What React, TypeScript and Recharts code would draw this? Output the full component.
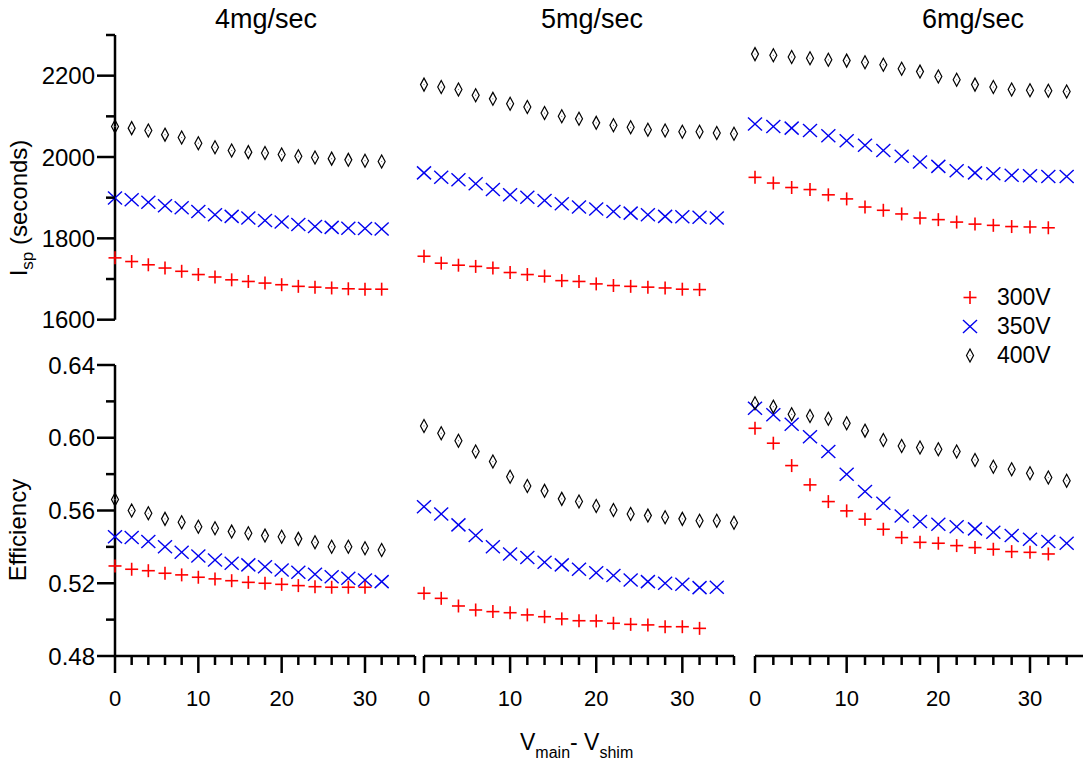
import React from 'react';
import { ScatterChart, Scatter, XAxis, YAxis } from 'recharts';

const FONT = '"Liberation Sans", Arial, Helvetica, sans-serif';

// Categories / ticks
const xValues = [0, 2, 4, 6, 8, 10, 12, 14, 16, 18, 20, 22, 24, 26, 28, 30, 32, 34, 36];
const xTicks = [0, 2, 4, 6, 8, 10, 12, 14, 16, 18, 20, 22, 24, 26, 28, 30, 32, 34, 36];
const ispTicks = [1600, 1700, 1800, 1900, 2000, 2100, 2200, 2300];
const effTicks = [0.48, 0.5, 0.52, 0.54, 0.56, 0.58, 0.6, 0.62, 0.64];
const flowRates = ['4mg/sec', '5mg/sec', '6mg/sec'];
const voltages = ['300V', '350V', '400V'];

// Isp (seconds)
const isp4_300 = [1752, 1743, 1735, 1727, 1719, 1711, 1705, 1698, 1694, 1690, 1686, 1682, 1680, 1678, 1676, 1675, 1675];
const isp4_350 = [1899, 1895, 1889, 1880, 1875, 1866, 1858, 1854, 1850, 1844, 1840, 1834, 1829, 1827, 1825, 1824, 1823];
const isp4_400 = [2075, 2071, 2065, 2055, 2048, 2034, 2024, 2016, 2012, 2010, 2006, 2002, 1999, 1996, 1993, 1991, 1989];
const isp5_300 = [1756, 1739, 1734, 1731, 1727, 1716, 1711, 1707, 1696, 1694, 1688, 1684, 1682, 1680, 1678, 1675, 1674];
const isp5_350 = [1961, 1950, 1944, 1934, 1920, 1907, 1901, 1893, 1885, 1877, 1872, 1866, 1862, 1858, 1854, 1853, 1852, 1850];
const isp5_400 = [2178, 2172, 2166, 2152, 2143, 2131, 2123, 2108, 2100, 2094, 2084, 2078, 2073, 2067, 2065, 2062, 2062, 2059, 2057];
const isp6_300 = [1950, 1936, 1925, 1920, 1907, 1897, 1877, 1869, 1860, 1850, 1846, 1840, 1835, 1832, 1829, 1828, 1826];
const isp6_350 = [2081, 2075, 2071, 2065, 2052, 2040, 2029, 2016, 2002, 1988, 1977, 1966, 1961, 1959, 1955, 1954, 1952, 1952];
const isp6_400 = [2253, 2250, 2246, 2243, 2239, 2237, 2233, 2227, 2217, 2210, 2198, 2190, 2178, 2172, 2166, 2164, 2163, 2161];

// Efficiency
const eff4_300 = [0.5295, 0.5277, 0.5269, 0.5255, 0.5246, 0.5233, 0.5224, 0.5214, 0.5205, 0.52, 0.5194, 0.5187, 0.5181, 0.5178, 0.5178, 0.5178];
const eff4_350 = [0.5456, 0.5451, 0.5429, 0.5401, 0.537, 0.535, 0.5328, 0.531, 0.5301, 0.5291, 0.5273, 0.526, 0.5249, 0.5236, 0.5227, 0.5218, 0.5209];
const eff4_400 = [0.566, 0.56, 0.5585, 0.5554, 0.5535, 0.5511, 0.5502, 0.5484, 0.5475, 0.5462, 0.5456, 0.5444, 0.5425, 0.5401, 0.5401, 0.5392, 0.5383];
const eff5_300 = [0.5145, 0.5117, 0.5075, 0.5053, 0.5044, 0.5038, 0.5026, 0.5016, 0.5004, 0.4994, 0.4993, 0.498, 0.4974, 0.4971, 0.4961, 0.4961, 0.4952];
const eff5_350 = [0.5621, 0.5581, 0.5521, 0.5462, 0.5401, 0.5361, 0.5341, 0.5315, 0.5301, 0.5277, 0.5258, 0.5242, 0.5218, 0.5209, 0.52, 0.5194, 0.5176, 0.5178];
const eff5_400 = [0.6065, 0.6025, 0.5984, 0.5924, 0.5869, 0.5786, 0.5735, 0.5708, 0.5664, 0.5649, 0.5625, 0.5603, 0.5581, 0.5572, 0.5563, 0.5554, 0.5544, 0.5544, 0.5533];
const eff6_300 = [0.6052, 0.597, 0.5847, 0.5741, 0.5649, 0.5598, 0.5552, 0.5497, 0.5451, 0.5425, 0.542, 0.5407, 0.5396, 0.5387, 0.5374, 0.537, 0.5361];
const eff6_350 = [0.6162, 0.6126, 0.6074, 0.6006, 0.5924, 0.5799, 0.5704, 0.564, 0.557, 0.5539, 0.5524, 0.5511, 0.5499, 0.548, 0.5462, 0.5442, 0.5429, 0.542];
const eff6_400 = [0.619, 0.6171, 0.6129, 0.612, 0.6104, 0.608, 0.6039, 0.5988, 0.5955, 0.5946, 0.5937, 0.5924, 0.5878, 0.5841, 0.5827, 0.5805, 0.5781, 0.5764];

const RED = '#ff0000';
const BLUE = '#0000ee';
const BLACK = '#000000';

const toPoints = (vals: number[]) => vals.map((y, i) => ({ x: xValues[i], y }));

const PlusMark = ({ cx, cy }: any) => (
  <g>
    <line x1={cx - 6.5} y1={cy} x2={cx + 6.5} y2={cy} stroke={RED} strokeWidth={1.6} />
    <line x1={cx} y1={cy - 6.5} x2={cx} y2={cy + 6.5} stroke={RED} strokeWidth={1.6} />
  </g>
);
const CrossMark = ({ cx, cy }: any) => (
  <g>
    <line x1={cx - 7} y1={cy - 6.5} x2={cx + 7} y2={cy + 6.5} stroke={BLUE} strokeWidth={1.4} />
    <line x1={cx - 7} y1={cy + 6.5} x2={cx + 7} y2={cy - 6.5} stroke={BLUE} strokeWidth={1.4} />
  </g>
);
const DiamondMark = ({ cx, cy }: any) => (
  <g>
    <path d={`M${cx},${cy - 6.5} L${cx + 3.5},${cy} L${cx},${cy + 6.5} L${cx - 3.5},${cy} Z`} fill="none" stroke={BLACK} strokeWidth={1.2} />
    <circle cx={cx} cy={cy} r={0.6} fill="#777" />
  </g>
);

const XTick = (props: any) => {
  const { x, y, payload } = props;
  const v = payload.value;
  const major = v % 10 === 0;
  return (
    <g>
      <line x1={x} y1={y} x2={x} y2={y + (major ? 17 : 9)} stroke="#000" strokeWidth={2.5} />
      {major && (
        <text x={x} y={y + 50} textAnchor="middle" fontSize={22} fontFamily={FONT} fill="#000">
          {v}
        </text>
      )}
    </g>
  );
};

const makeYTick = (isMajor: (v: number) => boolean, fmt: (v: number) => string) => (props: any) => {
  const { x, y, payload } = props;
  const v = payload.value;
  const major = isMajor(v);
  return (
    <g>
      <line x1={x} y1={y} x2={x - (major ? 18 : 9)} y2={y} stroke="#000" strokeWidth={2.5} />
      {major && (
        <text x={x - 20} y={y + 8.5} textAnchor="end" fontSize={24} fontFamily={FONT} fill="#000">
          {fmt(v)}
        </text>
      )}
    </g>
  );
};

const IspTick = makeYTick((v) => v % 200 === 0 && v <= 2200, (v) => String(v));
const EffTick = makeYTick((v) => Math.round(v * 100) % 4 === 0, (v) => v.toFixed(2));

type PanelProps = {
  plotLeft: number;
  plotTop: number;
  plotWidth: number;
  plotHeight: number;
  showY: boolean;
  showX: boolean;
  yDomain: [number, number];
  yTicks: number[];
  yTick: any;
  s300: number[];
  s350: number[];
  s400: number[];
};

const Panel = (p: PanelProps) => {
  const padT = 15;
  const padR = 15;
  const padB = 15;
  const padL = p.showY ? 0 : 15;
  const yW = p.showY ? p.plotLeft : 0;
  const xH = p.showX ? 60 : 0;
  const left = p.showY ? 0 : p.plotLeft - padL;
  const width = padL + yW + p.plotWidth + padR;
  const bottom = p.showX ? 0 : padB;
  const height = padT + p.plotHeight + xH + bottom;
  return (
    <div style={{ position: 'absolute', left, top: p.plotTop - padT, width, height }}>
      <ScatterChart width={width} height={height} margin={{ top: padT, right: padR, bottom, left: padL }}>
        <XAxis
          type="number"
          dataKey="x"
          domain={[0, 36]}
          ticks={xTicks}
          interval={0}
          hide={!p.showX}
          height={xH}
          tickSize={0}
          tickMargin={0}
          tickLine={false}
          axisLine={{ stroke: '#000', strokeWidth: 2.5 }}
          tick={XTick}
        />
        <YAxis
          type="number"
          dataKey="y"
          domain={p.yDomain}
          ticks={p.yTicks}
          interval={0}
          hide={!p.showY}
          width={yW}
          tickSize={0}
          tickMargin={0}
          tickLine={false}
          axisLine={{ stroke: '#000', strokeWidth: 2.5 }}
          tick={p.yTick}
        />
        <Scatter name={voltages[0]} data={toPoints(p.s300)} isAnimationActive={false} shape={PlusMark} />
        <Scatter name={voltages[1]} data={toPoints(p.s350)} isAnimationActive={false} shape={CrossMark} />
        <Scatter name={voltages[2]} data={toPoints(p.s400)} isAnimationActive={false} shape={DiamondMark} />
      </ScatterChart>
    </div>
  );
};

const columns = [
  { left: 115, width: 300 },
  { left: 424, width: 310 },
  { left: 755, width: 330 },
];
const topRow = { top: 35.3, height: 284.7 };
const bottomRow = { top: 365, height: 291 };

const ispSeries = [
  [isp4_300, isp4_350, isp4_400],
  [isp5_300, isp5_350, isp5_400],
  [isp6_300, isp6_350, isp6_400],
];
const effSeries = [
  [eff4_300, eff4_350, eff4_400],
  [eff5_300, eff5_350, eff5_400],
  [eff6_300, eff6_350, eff6_400],
];

const titleCenters = [266, 592, 973];

export default function App() {
  return (
    <div
      style={{
        position: 'absolute',
        left: 0,
        top: 0,
        width: 1083,
        height: 761,
        overflow: 'hidden',
        background: '#fff',
        fontFamily: FONT,
      }}
    >
      {columns.map((c, i) => (
        <Panel
          key={'top' + i}
          plotLeft={c.left}
          plotTop={topRow.top}
          plotWidth={c.width}
          plotHeight={topRow.height}
          showY={i === 0}
          showX={false}
          yDomain={[1600, 2300]}
          yTicks={ispTicks}
          yTick={IspTick}
          s300={ispSeries[i][0]}
          s350={ispSeries[i][1]}
          s400={ispSeries[i][2]}
        />
      ))}
      {columns.map((c, i) => (
        <Panel
          key={'bot' + i}
          plotLeft={c.left}
          plotTop={bottomRow.top}
          plotWidth={c.width}
          plotHeight={bottomRow.height}
          showY={i === 0}
          showX={true}
          yDomain={[0.48, 0.64]}
          yTicks={effTicks}
          yTick={EffTick}
          s300={effSeries[i][0]}
          s350={effSeries[i][1]}
          s400={effSeries[i][2]}
        />
      ))}
      <svg
        width={1083}
        height={761}
        style={{ position: 'absolute', left: 0, top: 0, pointerEvents: 'none' }}
        fontFamily={FONT}
      >
        {flowRates.map((t, i) => (
          <text key={t} x={titleCenters[i]} y={28} textAnchor="middle" fontSize={27} fill="#000">
            {t}
          </text>
        ))}
        <text x={27} y={208} transform="rotate(-90 27 208)" textAnchor="middle" fontSize={24} fill="#000">
          <tspan>I</tspan>
          <tspan dy={6} fontSize={17}>sp</tspan>
          <tspan dy={-6}> (seconds)</tspan>
        </text>
        <text x={26} y={530} transform="rotate(-90 26 530)" textAnchor="middle" fontSize={24} fill="#000">
          Efficiency
        </text>
        <text x={520} y={750} fontSize={23} fill="#000">
          <tspan>V</tspan>
          <tspan dy={8} fontSize={16}>main</tspan>
          <tspan dy={-8}>- V</tspan>
          <tspan dy={8} fontSize={16}>shim</tspan>
        </text>
        <PlusMark cx={970} cy={297.5} />
        <CrossMark cx={970} cy={326.5} />
        <DiamondMark cx={970} cy={355.5} />
        <text x={997} y={305} fontSize={23} fill="#000">{voltages[0]}</text>
        <text x={997} y={334} fontSize={23} fill="#000">{voltages[1]}</text>
        <text x={997} y={363} fontSize={23} fill="#000">{voltages[2]}</text>
      </svg>
    </div>
  );
}
